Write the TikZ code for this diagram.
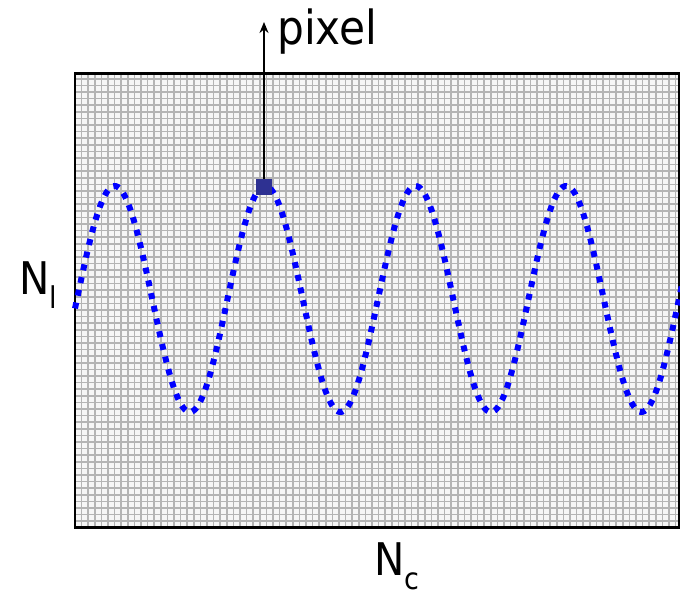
\documentclass[tikz,border=0pt]{standalone}
\usepackage{fontspec}
\setmainfont{DejaVu Sans Condensed}
\usetikzlibrary{arrows.meta}
\definecolor{wavecol}{RGB}{0,0,255}
\definecolor{pxcol}{RGB}{46,49,146}
\definecolor{cellfill}{RGB}{246,246,246}
\definecolor{gridcol}{RGB}{180,180,180}
\begin{document}
\begin{tikzpicture}[x=1pt,y=1pt,
  gridline/.style={draw=gridcol,line width=1.6pt},
  frame/.style={draw=black,line width=2.6pt},
  wavestyle/.style={draw=wavecol,line width=6pt,dash pattern=on 6pt off 7pt},
  pixbox/.style={fill=pxcol,minimum size=16pt,inner sep=0pt,outer sep=0pt},
  pointer/.style={draw=black,line width=2.4pt,-{Stealth[length=11pt,width=9pt]}},
  lbl/.style={inner sep=0pt,font=\fontsize{45}{45}\selectfont}
]
\useasboundingbox (0,0) rectangle (680,590);
% sheet
\fill[cellfill] (75,62.3) rectangle (679,516.7);
\begin{scope}[shift={(75,62.3)}]
  \clip (0,0) rectangle (604,454.4);
  \draw[gridline,step=6.6] (0,0) grid (604,454.4);
\end{scope}
\draw[frame] (75,62.3) rectangle (679,516.7);
% wave
\draw[wavestyle] plot[domain=75:682,samples=400,smooth]
  (\x,{291+113*sin(2.39203*(\x-77))});
% pixel marker and pointer
\node[pixbox] (px) at (264,403) {};
\coordinate (tip) at (264,568);
\draw[pointer] (px.north) -- (tip);
% labels
\node[lbl,anchor=base west,font=\fontsize{47}{47}\selectfont] (pixlbl) at (277,545) {pixel};
\node[lbl,anchor=base west] (nl) at (19,295) {N\raisebox{-14pt}{\fontsize{30}{30}\selectfont l}};
\node[lbl,anchor=base west] (nc) at (374,15) {N\raisebox{-14pt}{\fontsize{30}{30}\selectfont c}};
\end{tikzpicture}
\end{document}
